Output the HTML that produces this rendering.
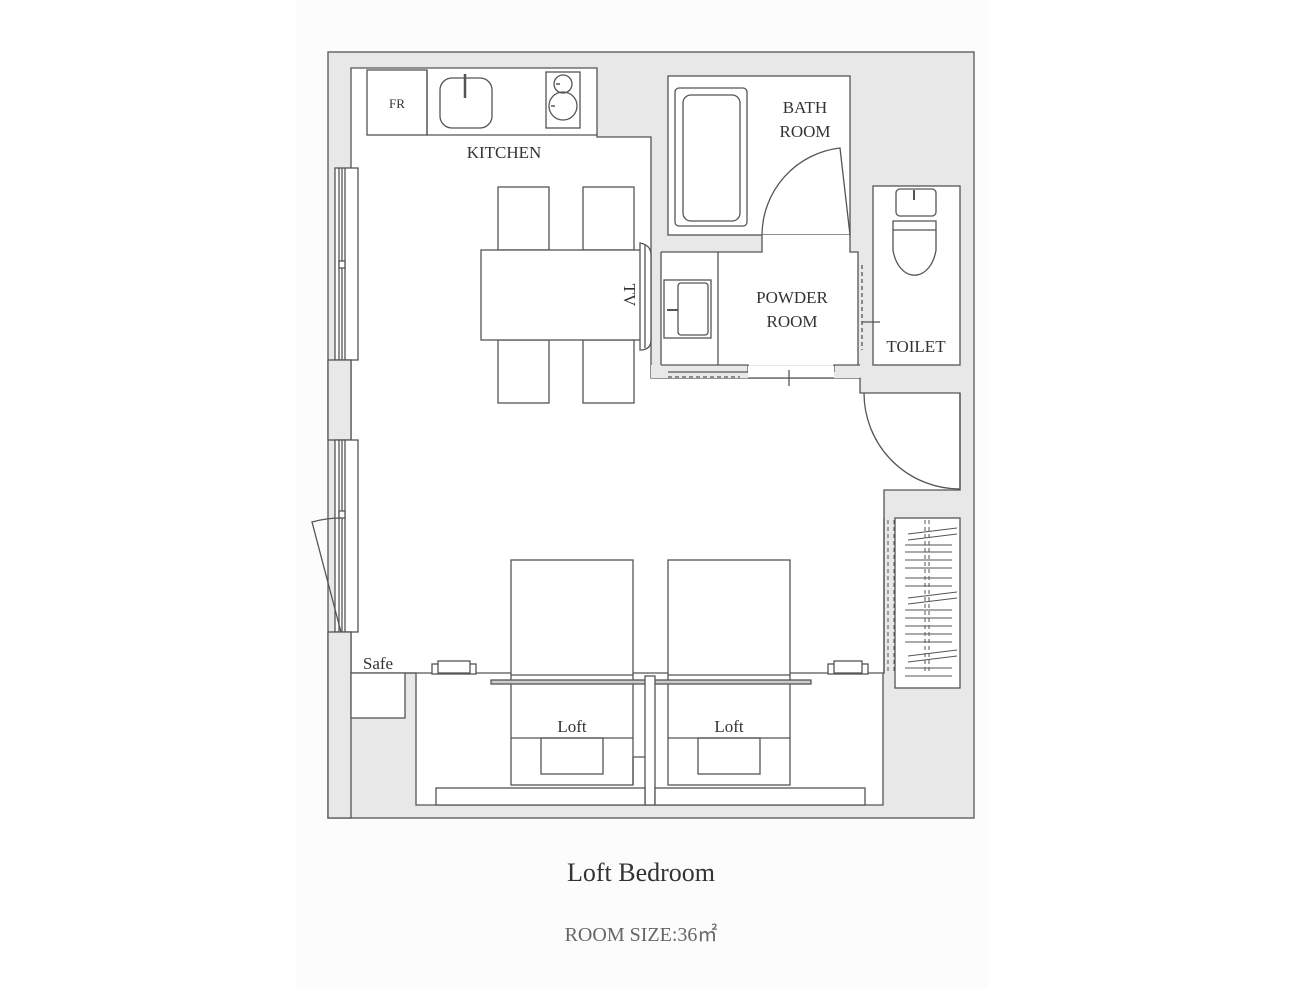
<!DOCTYPE html>
<html><head><meta charset="utf-8"><style>
html,body{margin:0;padding:0;background:#fff;}
svg{display:block;}
text{font-family:"Liberation Serif",serif;fill:#333;}
</style></head><body>
<svg width="1316" height="987" viewBox="0 0 1316 987" xmlns="http://www.w3.org/2000/svg">
<rect x="296" y="0" width="692" height="987" fill="#fcfcfc"/>
<g stroke="#555" stroke-width="1.3" fill="none">
<!-- outer wall -->
<rect x="328" y="52" width="646" height="766" fill="#e8e8e8"/>
<!-- main interior -->
<polygon fill="#fff" points="351,68 597,68 597,137 651,137 651,378 860,378 860,393 960,393 960,490 884,490 884,673 883,673 883,805 416,805 416,673 351,673"/>
<!-- bath/powder/toilet -->
<rect x="668" y="76" width="182" height="159" fill="#fff"/>
<polygon fill="#fff" stroke="none" points="661,252 762,252 762,235 850,235 850,252 858,252 858,365 661,365"/>
<path d="M661,252 H762 V235 M850,235 V252 H858 V365 M661,252 V372"/>
<rect x="873" y="186" width="87" height="179" fill="#fff"/>
<rect x="651" y="365" width="209" height="13" fill="#e8e8e8" stroke="none"/>
<path d="M661,365 H748 V372 H668 M834,372 V365 H860" />
<rect x="748" y="366" width="86" height="12" fill="#fff" stroke="none"/>
<path d="M748,378 H834 M789,370 V386"/>
<path d="M668,377 H740" stroke-dasharray="4,3"/>
<!-- closet -->
<rect x="895" y="518" width="65" height="170" fill="#fff"/>
<path d="M884,518 V673" />
<path d="M888,520 V672 M894,520 V672 M925,520 V672 M929,520 V672" stroke-dasharray="4,3" stroke-width="1"/>
<path d="M908,534 L957,528 M908,540 L957,534 M908,598 L957,592 M908,604 L957,598 M908,656 L957,650 M908,662 L957,656" stroke-width="1"/>
<path d="M905,545 H952 M905,552 H952 M905,560 H952 M905,568 H952 M905,578 H952 M905,586 H952 M905,610 H952 M905,618 H952 M905,626 H952 M905,634 H952 M905,642 H952 M905,668 H952 M905,676 H952" stroke-width="1"/>
<!-- entrance door -->
<path d="M864,393 A96,96 0 0 0 960,489"/>
<path d="M960,393 V490"/>
<!-- toilet door tick -->
<path d="M862,322 H880"/>
<path d="M862,265 V350" stroke-dasharray="4,3"/>
<!-- left windows -->
<rect x="335" y="168" width="23" height="192" fill="#fff"/>
<path d="M339,168 V360 M342,168 V360 M345,168 V360"/>
<rect x="339" y="261" width="6" height="7" fill="#fff"/>
<rect x="328" y="360" width="23" height="80" fill="#e8e8e8"/>
<rect x="335" y="440" width="23" height="192" fill="#fff"/>
<path d="M339,440 V632 M342,440 V632 M345,440 V632"/>
<rect x="339" y="511" width="6" height="7" fill="#fff"/>
<path d="M341,632 L312,522 A110,110 0 0 1 341,518"/>
<rect x="328" y="632" width="23" height="186" fill="#e8e8e8"/>
<!-- kitchen -->
<rect x="367" y="70" width="60" height="65"/>
<path d="M427,70 V135 H597"/>
<rect x="440" y="78" width="52" height="50" rx="12"/>
<path d="M465,74 V98" stroke-width="2.5"/>
<rect x="546" y="72" width="34" height="56"/>
<circle cx="563" cy="84" r="9"/><circle cx="563" cy="106" r="14"/>
<path d="M556,84 H560 M551,106 H555" stroke-width="1.5"/>
<!-- dining -->
<rect x="498" y="187" width="51" height="63" fill="#fff"/>
<rect x="583" y="187" width="51" height="63" fill="#fff"/>
<rect x="498" y="340" width="51" height="63" fill="#fff"/>
<rect x="583" y="340" width="51" height="63" fill="#fff"/>
<rect x="481" y="250" width="164" height="90" fill="#fff"/>
<path d="M640,243 Q651,245 651,255 V340 Q651,350 640,350 Z" fill="#fff"/>
<path d="M645,245 V348"/>
<!-- bath -->
<rect x="675" y="88" width="72" height="138" rx="4"/>
<rect x="683" y="95" width="57" height="126" rx="8"/>
<path d="M762,235 A88,88 0 0 1 840,148 L850,235"/>
<!-- powder sink -->
<path d="M718,252 V365"/>
<rect x="664" y="280" width="47" height="58"/>
<rect x="678" y="283" width="30" height="52" rx="3"/>
<path d="M667,310 H678" stroke-width="2"/>
<!-- toilet -->
<rect x="896" y="189" width="40" height="27" rx="4"/>
<path d="M914,190 V200" stroke-width="2"/>
<path d="M893,221 H936 V230 H893 Z M893,230 V250 A22,32 0 0 0 936,250 V230"/>
<!-- safe -->
<rect x="351" y="673" width="54" height="45" fill="#fff"/>
<path d="M405,673 H883"/>
<!-- beds -->
<rect x="511" y="560" width="122" height="225" fill="#fff"/>
<rect x="668" y="560" width="122" height="225" fill="#fff"/>
<path d="M511,675 H633 M668,675 H790" />
<path d="M511,738 H633 M668,738 H790"/>
<rect x="541" y="738" width="62" height="36"/>
<rect x="698" y="738" width="62" height="36"/>
<rect x="491" y="680" width="320" height="4" fill="#ccc"/>
<rect x="645" y="676" width="10" height="129" fill="#fff"/>
<path d="M633,757 H645 M633,757 V785"/>
<rect x="436" y="788" width="209" height="17" fill="#fff"/>
<rect x="655" y="788" width="210" height="17" fill="#fff"/>
<rect x="432" y="664" width="44" height="10" fill="#fff"/>
<rect x="438" y="661" width="32" height="12" fill="#fff"/>
<rect x="828" y="664" width="40" height="10" fill="#fff"/>
<rect x="834" y="661" width="28" height="12" fill="#fff"/>
</g>
<g font-size="17">
<text x="504" y="158" text-anchor="middle">KITCHEN</text>
<text x="397" y="108" text-anchor="middle" font-size="13">FR</text>
<text x="805" y="113" text-anchor="middle">BATH</text>
<text x="805" y="137" text-anchor="middle">ROOM</text>
<text x="792" y="303" text-anchor="middle">POWDER</text>
<text x="792" y="327" text-anchor="middle">ROOM</text>
<text x="916" y="352" text-anchor="middle">TOILET</text>
<text x="378" y="669" text-anchor="middle">Safe</text>
<text x="572" y="732" text-anchor="middle">Loft</text>
<text x="729" y="732" text-anchor="middle">Loft</text>
<text transform="translate(624,295) rotate(90)" text-anchor="middle">TV</text>
</g>
<text x="641" y="881" text-anchor="middle" font-size="26" style="fill:#333">Loft Bedroom</text>
<text x="641" y="941" text-anchor="middle" font-size="20" style="fill:#666">ROOM SIZE:36㎡</text>
</svg>
</body></html>
